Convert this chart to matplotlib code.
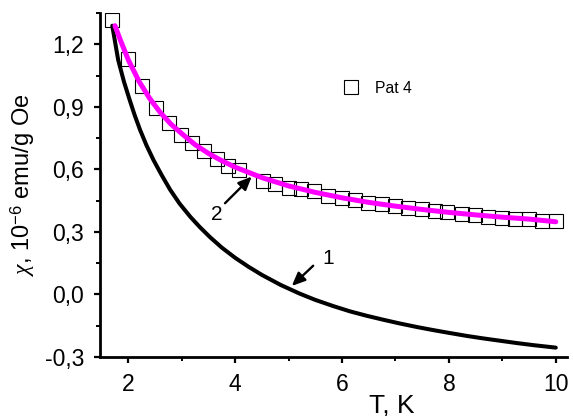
import matplotlib
matplotlib.use("Agg")
import matplotlib.pyplot as plt
from matplotlib.ticker import MultipleLocator, FuncFormatter

plt.rcParams['font.family'] = ['Liberation Sans', 'DejaVu Sans']
plt.rcParams['mathtext.fontset'] = 'custom'
plt.rcParams['mathtext.rm'] = 'Liberation Sans'
plt.rcParams['mathtext.it'] = 'Liberation Serif:italic'

# Measured susceptibility, sample "Pat 4"
t_meas = [1.69, 2.0, 2.26, 2.51, 2.77, 2.99, 3.2, 3.42, 3.66, 3.87, 4.07,
          4.52, 4.75, 5.0, 5.23, 5.47, 5.74, 6.0, 6.24, 6.49, 6.75, 6.99,
          7.24, 7.49, 7.74, 7.97, 8.24, 8.49, 8.74, 8.99, 9.24, 9.49, 9.74, 10.0]
chi_meas = [1.318, 1.130, 1.001, 0.894, 0.825, 0.766, 0.726, 0.689, 0.650,
            0.618, 0.598, 0.543, 0.532, 0.513, 0.505, 0.498, 0.473, 0.462,
            0.452, 0.441, 0.433, 0.425, 0.417, 0.410, 0.402, 0.395, 0.385,
            0.380, 0.373, 0.367, 0.364, 0.362, 0.354, 0.351]

# Curve 1
t_c1 = [1.7, 1.81, 1.92, 2.03, 2.12, 2.22, 2.34, 2.47, 2.62, 2.78, 2.96,
        3.16, 3.34, 3.53, 3.75, 4.0, 4.25, 4.5, 4.85, 5.2, 5.5, 5.84, 6.15,
        6.46, 6.77, 7.08, 7.4, 7.71, 8.02, 8.34, 8.65, 8.96, 9.27, 9.58, 10.0]
chi_c1 = [1.29, 1.126, 1.02, 0.93, 0.86, 0.79, 0.716, 0.646, 0.575, 0.504,
          0.436, 0.373, 0.323, 0.275, 0.225, 0.176, 0.133, 0.094, 0.046, 0.005,
          -0.026, -0.056, -0.081, -0.102, -0.121, -0.139, -0.156, -0.171,
          -0.185, -0.199, -0.211, -0.222, -0.233, -0.243, -0.255]

# Curve 2
t_c2 = [1.75, 1.85, 2.0, 2.2, 2.4, 2.6, 2.8, 3.0, 3.25, 3.5, 3.75, 4.0, 4.5,
        5.0, 5.5, 6.0, 6.5, 7.0, 7.5, 8.0, 8.5, 9.0, 9.5, 10.0]
chi_c2 = [1.29, 1.222, 1.126, 1.023, 0.941, 0.873, 0.817, 0.772, 0.719, 0.677,
          0.642, 0.611, 0.561, 0.521, 0.490, 0.464, 0.442, 0.424, 0.408,
          0.394, 0.382, 0.371, 0.362, 0.349]

x_major = [2, 4, 6, 8, 10]
y_major = [-0.3, 0.0, 0.3, 0.6, 0.9, 1.2]

fig = plt.figure(figsize=(5.73, 4.16), dpi=100)
ax = fig.add_axes([0.1745, 0.1418, 0.815, 0.827])

ax.plot(t_meas, chi_meas, linestyle='none', marker='s', markersize=9.4,
        markerfacecolor='none', markeredgecolor='black', markeredgewidth=0.8,
        label='Pat 4', zorder=2)
ax.plot(t_c1, chi_c1, color='black', lw=2.9, solid_capstyle='round', zorder=3)
ax.plot(t_c2, chi_c2, color='#FF00FF', lw=3.6, solid_capstyle='round', zorder=4)

arrow = dict(arrowstyle='-|>,head_length=0.8,head_width=0.35', lw=1.7,
             color='black', shrinkA=0, shrinkB=0)
ax.annotate('', xy=(4.31, 0.566), xytext=(3.81, 0.438), arrowprops=arrow)
ax.text(3.66, 0.382, '2', fontsize=15, ha='center', va='center')
ax.annotate('', xy=(5.06, 0.041), xytext=(5.46, 0.138), arrowprops=arrow)
ax.text(5.75, 0.174, '1', fontsize=15, ha='center', va='center')

ax.set_xlim(1.47, 10.21)
ax.set_ylim(-0.3, 1.351)

ax.spines['top'].set_visible(False)
ax.spines['right'].set_visible(False)
ax.spines['left'].set_linewidth(2.0)
ax.spines['bottom'].set_linewidth(2.0)

ax.set_xticks(x_major)
ax.set_yticks(y_major)
ax.xaxis.set_minor_locator(MultipleLocator(1))
ax.yaxis.set_minor_locator(MultipleLocator(0.15))
ax.yaxis.set_major_formatter(FuncFormatter(lambda v, p: f'{v:.1f}'.replace('.', ',')))
ax.tick_params(which='major', direction='out', length=4.5, width=1.6,
               labelsize=16.5, pad=7)
ax.tick_params(which='minor', direction='out', length=3, width=1.4)

ax.set_ylabel(r'$\chi$, 10$^{-6}$ emu/g Oe', fontsize=17)
ax.yaxis.set_label_coords(-0.135, 0.5)
ax.set_xlabel('T, K', fontsize=19)
ax.xaxis.set_label_coords(0.625, -0.106)

ax.legend(loc='center left', bbox_to_anchor=(0.521, 0.781), frameon=False,
          borderpad=0, borderaxespad=0, handlelength=1.0, handletextpad=1.03,
          numpoints=1, fontsize=11.3)

fig.savefig('out.png', dpi=100)
